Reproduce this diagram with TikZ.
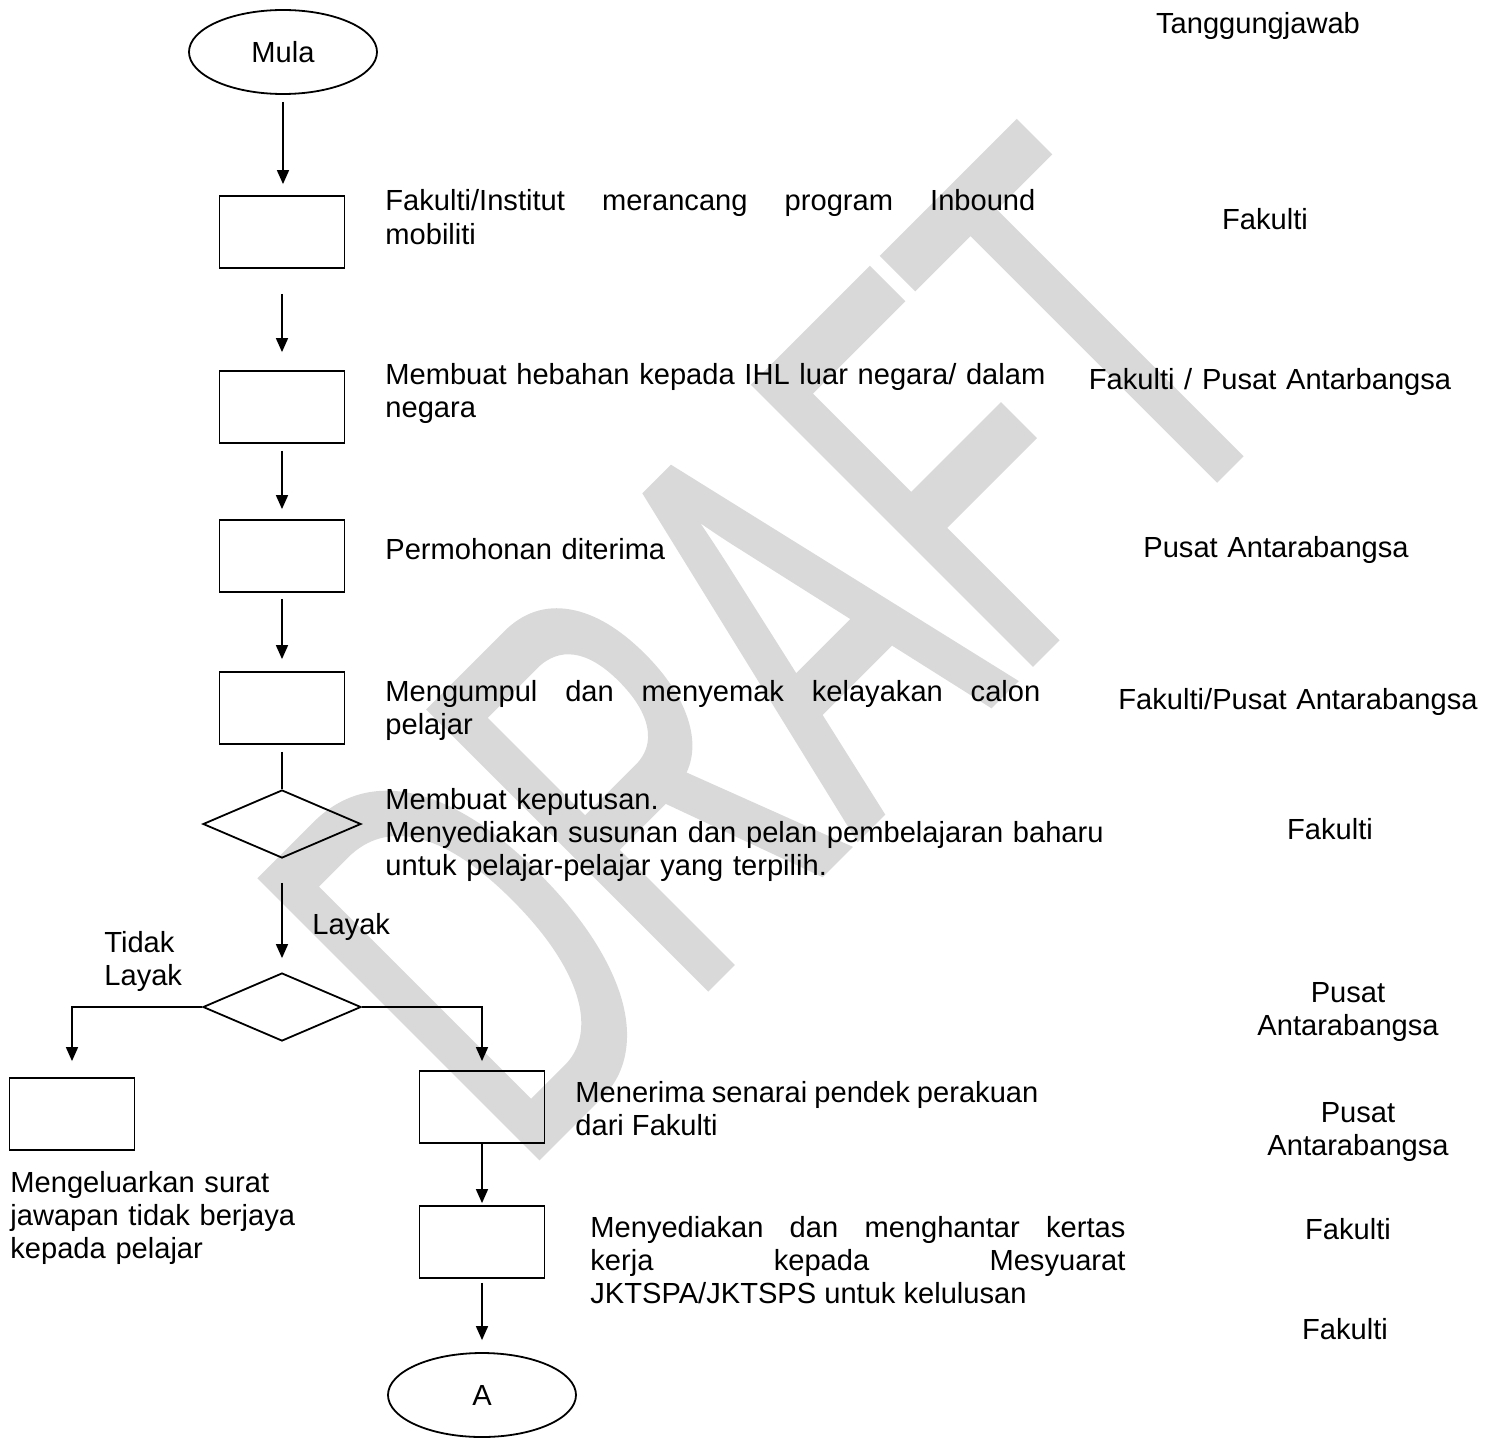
\documentclass[tikz,border=0pt]{standalone}
\usepackage{fontspec}
\setmainfont{Liberation Sans}
\newfontfamily\draftfont[FakeStretch=0.58,FakeBold=1.2]{Liberation Sans}
\usetikzlibrary{shapes.geometric,arrows.meta}
\definecolor{draftgray}{HTML}{D9D9D9}
\begin{document}
\begin{tikzpicture}[x=0.5pt,y=-0.5pt,
  every node/.style={font=\fontsize{14.55}{16.7}\selectfont},
  box/.style={draw,line width=0.9pt,minimum width=62.5pt,minimum height=36pt,inner sep=0pt},
  terminal/.style={draw,ellipse,line width=0.9pt,minimum width=94pt,minimum height=42pt,inner sep=0pt},
  choice/.style={draw,diamond,line width=0.9pt,minimum width=79pt,minimum height=34pt,inner sep=0pt},
  txt/.style={anchor=base west,inner sep=0pt,align=left,text width=400pt},
  para/.style={anchor=base west,inner sep=0pt,align=justify,text width=#1},
  who/.style={anchor=base,inner sep=0pt,align=center,text width=200pt},
  arr/.style={-{Triangle[length=7pt,width=6pt]},line width=0.8pt}]
\useasboundingbox (0,0) rectangle (1497,1439);
\node[rotate=45,anchor=base west,inner sep=0pt,text=draftgray,font=\draftfont\fontsize{285}{285}\selectfont] (draft) at (520,1175) {DRAFT};
\node[terminal] (mula) at (283,52) {Mula};
\node[box] (b1) at (282,232) {};
\node[box] (b2) at (282,407) {};
\node[box] (b3) at (282,556) {};
\node[box] (b4) at (282,708) {};
\node[choice] (d1) at (282,824) {};
\node[choice] (d2) at (282,1007) {};
\node[box] (tolak) at (72,1114) {};
\node[box] (r1) at (482,1107) {};
\node[box] (r2) at (482,1242) {};
\node[terminal] (a) at (482,1395) {A};
\draw[arr,shorten <=3.5pt,shorten >=5.5pt] (mula.south) -- (mula.south |- b1.north);
\draw[arr,shorten <=12.5pt,shorten >=9pt] (b1.south) -- (b2.north);
\draw[arr,shorten <=3.5pt,shorten >=5pt] (b2.south) -- (b3.north);
\draw[arr,shorten <=3pt,shorten >=6pt] (b3.south) -- (b4.north);
\draw[line width=0.8pt,shorten <=3.5pt] (b4.south) -- (d1.north);
\draw[arr,shorten <=12pt,shorten >=7pt] (d1.south) -- (d2.north);
\draw[arr,shorten >=8pt] (d2.west) -| (tolak.north);
\draw[arr,shorten >=4.5pt] (d2.east) -| (r1.north);
\draw[arr,shorten >=1pt] (r1.south) -- (r2.north);
\draw[arr,shorten <=2pt,shorten >=6pt] (r2.south) -- (a.north);
\node[who] (tj) at (1258,34) {Tanggungjawab};
\node[para=325pt] (t1) at (385,211) {Fakulti/Institut merancang program Inbound\linebreak mobiliti};
\node[who] (w1) at (1265,229) {Fakulti};
\node[txt] (t2) at (385,384) {Membuat hebahan kepada IHL luar negara/ dalam\\negara};
\node[who] (w2) at (1270,389) {Fakulti / Pusat Antarbangsa};
\node[txt] (t3) at (385,559) {Permohonan diterima};
\node[who] (w3) at (1276,557) {Pusat Antarabangsa};
\node[para=327.5pt] (t4) at (385,701) {Mengumpul dan menyemak kelayakan calon\linebreak pelajar};
\node[who] (w4) at (1298,709) {Fakulti/Pusat Antarabangsa};
\node[txt] (t5) at (385,809) {Membuat keputusan.\\Menyediakan susunan dan pelan pembelajaran baharu\\untuk pelajar-pelajar yang terpilih.};
\node[who] (w5) at (1330,839) {Fakulti};
\node[txt] (ya) at (312,934) {Layak};
\node[txt] (tidak) at (104,952) {Tidak\\Layak};
\node[who] (w6) at (1348,1002) {Pusat\\Antarabangsa};
\node[para=231.5pt] (t6) at (575,1102) {Menerima senarai pendek perakuan\linebreak dari Fakulti};
\node[who] (w7) at (1358,1122) {Pusat\\Antarabangsa};
\node[txt] (t7) at (10,1192) {Mengeluarkan surat\\jawapan tidak berjaya\\kepada pelajar};
\node[para=267.5pt] (t8) at (590,1237) {Menyediakan dan menghantar kertas\linebreak kerja kepada Mesyuarat\linebreak JKTSPA/JKTSPS untuk kelulusan};
\node[who] (w8) at (1348,1239) {Fakulti};
\node[who] (w9) at (1345,1339) {Fakulti};
\end{tikzpicture}
\end{document}
